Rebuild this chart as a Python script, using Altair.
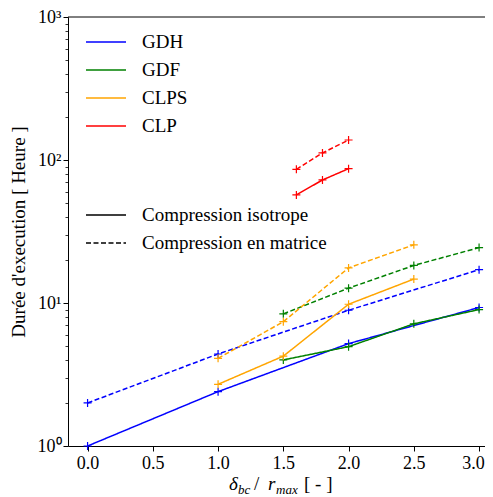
import altair as alt
import pandas as pd

# ---- data ----
series_order = ["GDH", "GDF", "CLPS", "CLP"]
series_colors = ["blue", "green", "orange", "red"]
type_order = ["Compression isotrope", "Compression en matrice"]

x_gdh = [0.0, 1.0, 2.0, 3.0]
gdh_iso = [1.0, 2.4, 5.2, 9.3]
gdh_mat = [2.0, 4.4, 8.9, 17.1]

x_gdf = [1.5, 2.0, 2.5, 3.0]
gdf_iso = [4.0, 4.95, 7.15, 9.0]
gdf_mat = [8.4, 12.7, 18.3, 24.4]

x_clps = [1.0, 1.5, 2.0, 2.5]
clps_iso = [2.7, 4.25, 9.8, 14.7]
clps_mat = [4.1, 7.4, 17.6, 25.5]

x_clp = [1.6, 1.8, 2.0]
clp_iso = [57.0, 72.5, 87.0]
clp_mat = [86.0, 112.0, 138.0]

x_ticks = [0.0, 0.5, 1.0, 1.5, 2.0, 2.5, 3.0]
y_ticks = [1, 2, 3, 4, 5, 6, 7, 8, 9,
           10, 20, 30, 40, 50, 60, 70, 80, 90,
           100, 200, 300, 400, 500, 600, 700, 800, 900, 1000]

rows = []
def add(name, xs, iso, mat):
    for x, v in zip(xs, iso):
        rows.append({"serie": name, "type": type_order[0], "x": x, "y": v})
    for x, v in zip(xs, mat):
        rows.append({"serie": name, "type": type_order[1], "x": x, "y": v})

add("GDH", x_gdh, gdh_iso, gdh_mat)
add("GDF", x_gdf, gdf_iso, gdf_mat)
add("CLPS", x_clps, clps_iso, clps_mat)
add("CLP", x_clp, clp_iso, clp_mat)
df = pd.DataFrame(rows)

W, H = 417, 429
FONT = "Liberation Serif"

xscale = alt.Scale(domain=[-0.15, -0.15 + W / 130.5], nice=False, zero=False)
yscale = alt.Scale(type="log", domain=[1, 1000], nice=False)

major_test = "datum.value == 1 || datum.value == 10 || datum.value == 100 || datum.value == 1000"

x_enc = alt.X("x:Q", scale=xscale,
              axis=alt.Axis(values=x_ticks, format=".1f", title=None, grid=False,
                            tickSize=5, labelPadding=3, labelFontSize=18,
                            labelOffset={"condition": {"test": "datum.value == 3", "value": -6}, "value": 0},
                            domainColor="black", tickColor="black", labelColor="black"))
y_enc = alt.Y("y:Q", scale=yscale,
              axis=alt.Axis(values=y_ticks, grid=False, labelOverlap=False,
                            title="Durée d'execution [ Heure ]",
                            titleFontSize=19, titleFontWeight="normal", titleColor="black",
                            titlePadding=9,
                            labelExpr="datum.value == 1 ? '10⁰' : datum.value == 10 ? '10¹' : datum.value == 100 ? '10²' : datum.value == 1000 ? '10³' : ''",
                            tickSize={"condition": {"test": major_test, "value": 5}, "value": 3},
                            tickWidth={"condition": {"test": major_test, "value": 1}, "value": 0.8},
                            labelPadding=2, labelFontSize=18,
                            domainColor="black", tickColor="black", labelColor="black"))

color_legend = alt.Legend(orient="none", legendX=17, legendY=15, title=None,
                          symbolType="stroke", symbolSize=1600, symbolStrokeWidth=1.5,
                          labelFontSize=19, labelFont=FONT, labelColor="black",
                          labelOffset=15, clipHeight=20, rowPadding=8, padding=0,
                          labelLimit=300)
dash_legend = alt.Legend(orient="none", legendX=17, legendY=188, title=None,
                         symbolType="stroke", symbolSize=1600, symbolStrokeWidth=1.5,
                         symbolStrokeColor="black",
                         labelFontSize=19, labelFont=FONT, labelColor="black",
                         labelOffset=15, clipHeight=20, rowPadding=8, padding=0,
                         labelLimit=300)

color_enc = alt.Color("serie:N", scale=alt.Scale(domain=series_order, range=series_colors),
                      legend=color_legend, sort=series_order)

lines = alt.Chart(df).mark_line(strokeWidth=1.5).encode(
    x=x_enc, y=y_enc, color=color_enc,
    strokeDash=alt.StrokeDash("type:N",
                              scale=alt.Scale(domain=type_order, range=[[1, 0], [5, 2.5]]),
                              legend=dash_legend, sort=type_order),
    order="x:Q",
)

points = alt.Chart(df).mark_point(shape="M-1,0L1,0M0,-1L0,1", filled=False,
                                  size=64, strokeWidth=1.2, opacity=1).encode(
    x=alt.X("x:Q", scale=xscale), y=alt.Y("y:Q", scale=yscale), color=color_enc,
)

one = alt.Data(values=[{}])
top_border = alt.Chart(one).mark_rule(color="black", strokeWidth=1).encode(
    x=alt.value(0), x2=alt.value(W), y=alt.value(0))

BASE = 473
def txt(t, x, y, size, italic):
    kw = dict(text=t, align="left", baseline="alphabetic", font=FONT,
              fontSize=size, color="black")
    if italic:
        kw["fontStyle"] = "italic"
    return alt.Chart(one).mark_text(**kw).encode(x=alt.value(x), y=alt.value(y))

xtitle = [
    txt("δ", 161, BASE, 19, True),
    txt("bc", 170, BASE + 4, 13, True),
    txt("/", 186, BASE, 19, False),
    txt("r", 200, BASE, 19, True),
    txt("max", 208, BASE + 4, 13, True),
    txt("[ - ]", 236, BASE, 19, False),
]

chart = alt.layer(lines, points, top_border, *xtitle).properties(
    width=W, height=H,
    autosize=alt.AutoSizeParams(type="none"),
    padding={"left": 60, "top": 9, "right": 0, "bottom": 50},
).configure(font=FONT).configure_view(stroke=None).configure_axis(labelFont=FONT, titleFont=FONT)

chart.save("out.html", embed_options={"renderer": "svg", "actions": False})
